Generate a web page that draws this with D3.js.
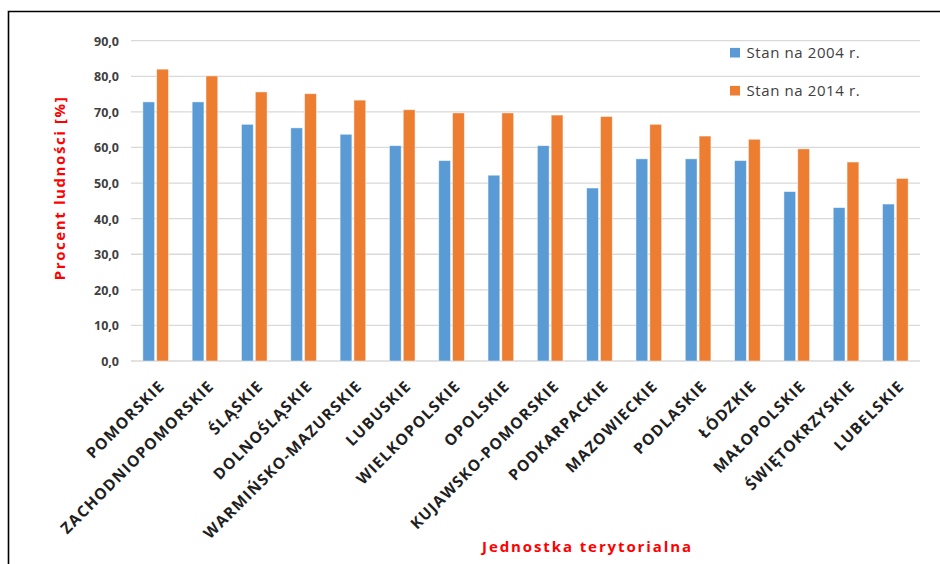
<!DOCTYPE html>
<html>
<head>
<meta charset="utf-8">
<script src="https://cdn.jsdelivr.net/npm/d3@7"></script>
<style>
  html, body { margin: 0; padding: 0; background: #fff; }
  svg { display: block; }
</style>
</head>
<body>
<svg id="chart" width="940" height="564"></svg>
<script>
// Województwa, sorted by the 2014 share
const categories = [
  "POMORSKIE", "ZACHODNIOPOMORSKIE", "ŚLĄSKIE", "DOLNOŚLĄSKIE",
  "WARMIŃSKO-MAZURSKIE", "LUBUSKIE", "WIELKOPOLSKIE", "OPOLSKIE",
  "KUJAWSKO-POMORSKIE", "PODKARPACKIE", "MAZOWIECKIE", "PODLASKIE",
  "ŁÓDZKIE", "MAŁOPOLSKIE", "ŚWIĘTOKRZYSKIE", "LUBELSKIE"
];
const seriesNames = ["Stan na 2004 r.", "Stan na 2014 r."];
const values2004 = [72.8, 72.8, 66.5, 65.5, 63.7, 60.5, 56.3, 52.2,
                    60.5, 48.6, 56.8, 56.8, 56.3, 47.6, 43.1, 44.1];
const values2014 = [82.0, 80.1, 75.6, 75.1, 73.3, 70.6, 69.7, 69.7,
                    69.1, 68.7, 66.5, 63.2, 62.3, 59.6, 55.9, 51.3];
const yTicks = [0, 10, 20, 30, 40, 50, 60, 70, 80, 90];
const colors = ["#5b9bd5", "#ed7d31"];

const svg = d3.select("#chart");

// Chart frame (top and left edges)
svg.append("path")
  .attr("d", "M8.5,564 L8.5,11.5 L940,11.5")
  .attr("fill", "none")
  .attr("stroke", "#000")
  .attr("stroke-width", 1.6);

const plot = { left: 131, right: 920, top: 40.7, bottom: 361 };

const y = d3.scaleLinear().domain([0, 90]).range([plot.bottom, plot.top]);
const x0 = d3.scaleBand().domain(categories).range([plot.left, plot.right]).padding(0);
const groupW = 25.6;
const x1 = d3.scaleBand().domain(seriesNames)
  .range([x0.bandwidth() / 2 - groupW / 2, x0.bandwidth() / 2 + groupW / 2])
  .paddingInner(0.15);

// Gridlines
svg.append("g")
  .selectAll("line")
  .data(yTicks)
  .join("line")
  .attr("x1", plot.left).attr("x2", plot.right)
  .attr("y1", d => y(d)).attr("y2", d => y(d))
  .attr("stroke", "#d9d9d9")
  .attr("stroke-width", 1.3);

// Y axis tick labels
const yAxis = d3.axisLeft(y).tickValues(yTicks).tickSize(0).tickPadding(0)
  .tickFormat(d => d3.format(".1f")(d).replace(".", ","));
const gy = svg.append("g").attr("transform", "translate(119,0)").call(yAxis);
gy.select(".domain").remove();
gy.selectAll("text")
  .attr("font-family", "'Open Sans', sans-serif")
  .attr("font-size", 12.5)
  .attr("font-weight", 700)
  .attr("fill", "#404040")
  .attr("dy", "0.35em");

// Bars
const rows = categories.map((c, i) => ({ cat: c, vals: [values2004[i], values2014[i]] }));
const groups = svg.append("g").selectAll("g")
  .data(rows)
  .join("g")
  .attr("transform", d => `translate(${x0(d.cat)},0)`);
groups.selectAll("rect")
  .data(d => d.vals.map((v, k) => ({ key: seriesNames[k], v, k })))
  .join("rect")
  .attr("x", d => x1(d.key))
  .attr("width", x1.bandwidth())
  .attr("y", d => y(d.v))
  .attr("height", d => y(0) - y(d.v))
  .attr("fill", d => colors[d.k])
  .attr("stroke", "#ffffff")
  .attr("stroke-opacity", 0.55)
  .attr("stroke-width", 0.8);

// Category labels, rotated
const xAxis = d3.axisBottom(x0).tickSize(0).tickPadding(0);
const gx = svg.append("g").attr("transform", `translate(0,${plot.bottom})`).call(xAxis);
gx.select(".domain").remove();
gx.selectAll(".tick text")
  .attr("font-family", "'Open Sans', sans-serif")
  .attr("font-size", 15.5)
  .attr("font-weight", 700)
  .attr("letter-spacing", 1.2)
  .attr("fill", "#1f1f1f")
  .attr("text-anchor", "end")
  .attr("y", 0).attr("dy", 0)
  .attr("transform", "translate(10,26) rotate(-45)");

// Legend
const legend = svg.append("g");
seriesNames.forEach((name, k) => {
  const ly = 57.5 + k * 38;
  legend.append("rect")
    .attr("x", 730).attr("y", ly - 9.6)
    .attr("width", 10).attr("height", 9.6)
    .attr("fill", colors[k]);
  legend.append("text")
    .attr("x", 746.5).attr("y", ly)
    .attr("font-family", "'Open Sans', sans-serif")
    .attr("font-size", 15)
    .attr("letter-spacing", 0.6)
    .attr("fill", "#404040")
    .text(name);
});

// Axis titles
svg.append("text")
  .attr("x", 587.5).attr("y", 551.5)
  .attr("text-anchor", "middle")
  .attr("font-family", "'Open Sans', sans-serif")
  .attr("font-size", 15)
  .attr("font-weight", 700)
  .attr("letter-spacing", 1.9)
  .attr("fill", "#ff0000")
  .text("Jednostka terytorialna");

svg.append("text")
  .attr("transform", "translate(65,188) rotate(-90)")
  .attr("text-anchor", "middle")
  .attr("font-family", "'Open Sans', sans-serif")
  .attr("font-size", 15)
  .attr("font-weight", 700)
  .attr("letter-spacing", 1.6)
  .attr("fill", "#ff0000")
  .text("Procent ludności [%]");
</script>
</body>
</html>
